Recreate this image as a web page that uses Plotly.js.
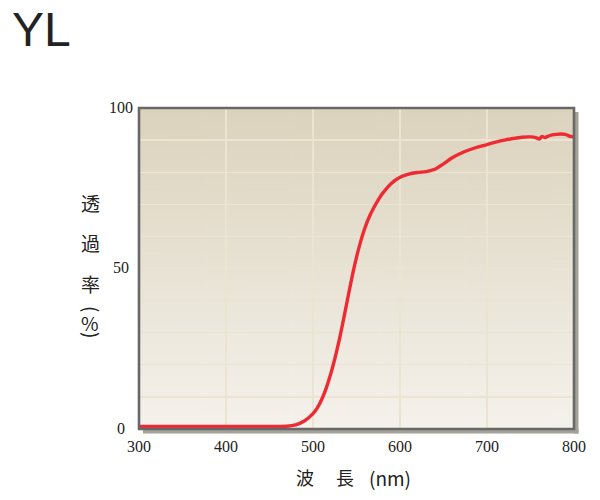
<!DOCTYPE html>
<html>
<head>
<meta charset="utf-8">
<script src="https://cdn.plot.ly/plotly-3.0.1.min.js"></script>
<style>html,body{margin:0;padding:0;background:#fff;}#chart{width:600px;height:500px;}</style>
</head>
<body>
<div id="chart"></div>
<script>
// Data
const wavelength = [300,350,400,450,460,470,480,490,500,505,510,515,520,525,530,535,540,545,550,555,560,565,570,575,580,590,600,610,620,630,640,650,660,670,680,690,700,710,720,730,740,750,756,760,763,767,770,775,780,785,790,795,800];
const transmittance = [0.8,0.8,0.8,0.8,0.8,0.85,1.3,2.5,4.8,6.6,9.2,12.6,16.8,21.8,27.5,34.0,40.8,47.5,53.5,58.6,62.9,66.3,69.0,71.4,73.4,76.5,78.4,79.4,79.9,80.2,80.9,82.6,84.5,85.9,87.0,87.9,88.6,89.4,90.0,90.5,90.9,91.0,90.8,90.3,91.1,90.8,91.2,91.6,91.8,91.9,91.8,91.2,91.0];
const xTickVals = [300,400,500,600,700,800];
const xTickText = ['300','400','500','600','700','800'];
const yTickVals = [0,50,100];
const yTickText = ['0','50','100'];
const yTitleChars = ['透','過','率','%'];
const yTitleParens = ['(', ')'];
const xTitleParts = ['波','長','(nm)'];
const titleText = 'YL';

// plot area geometry (pixels)
const L = 139, R = 26, T = 108, B = 71;
const PW = 600 - L - R, PH = 500 - T - B;
const px = v => v / PW, py = v => v / PH;
const PX = x => (x - L) / PW;          // page x -> paper
const PY = y => (500 - B - y) / PH;    // page y -> paper

// gradient background image
const cv = document.createElement('canvas');
cv.width = 10; cv.height = 200;
const ctx = cv.getContext('2d');
const g = ctx.createLinearGradient(0, 0, 0, 200);
g.addColorStop(0, '#dcd3bd');
g.addColorStop(1, '#f5f2ec');
ctx.fillStyle = g; ctx.fillRect(0, 0, 10, 200);
const bgURL = cv.toDataURL('image/png');

const serif = 'Liberation Serif, Times New Roman, serif';
const cjk = 'Noto Sans CJK JP, sans-serif';

const annotations = [];
xTickVals.forEach((v, i) => annotations.push({
  text: xTickText[i], x: v, xref: 'x', y: 0, yref: 'paper', yshift: -17,
  xanchor: 'center', yanchor: 'middle', showarrow: false,
  font: {family: serif, size: 16, color: '#222'}
}));
yTickVals.forEach((v, i) => annotations.push({
  text: yTickText[i], x: PX(121), xref: 'paper', y: v, yref: 'y', yshift: 1,
  xanchor: 'center', yanchor: 'middle', showarrow: false,
  font: {family: serif, size: 16, color: '#222'}
}));
const yTitleY = [202.5, 242.7, 283.3, 322];
yTitleChars.forEach((c, i) => annotations.push({
  text: c, x: PX(90), xref: 'paper', y: PY(yTitleY[i]), yref: 'paper',
  xanchor: 'center', yanchor: 'middle', showarrow: false,
  font: {family: cjk, size: 19, color: '#222'}
}));
// vertical-form parentheses: rotated "(" above and ")" below the "%"
const parenY = [308.5, 334.5];
yTitleParens.forEach((c, i) => annotations.push({
  text: c, x: PX(92.5), xref: 'paper', y: PY(parenY[i]), yref: 'paper', textangle: 90,
  xanchor: 'center', yanchor: 'middle', showarrow: false,
  font: {family: cjk, size: 19, color: '#222'}
}));
const xTitleX = [305, 344.7, 389.5];
xTitleParts.forEach((c, i) => annotations.push({
  text: c, x: PX(xTitleX[i]), xref: 'paper', y: PY(477), yref: 'paper',
  xanchor: 'center', yanchor: 'middle', showarrow: false,
  font: {family: cjk, size: i < 2 ? 18 : 19, color: '#222'}
}));

const trace = {
  x: wavelength, y: transmittance, type: 'scatter', mode: 'lines',
  line: {color: '#ee2a33', width: 3.4, shape: 'spline', smoothing: 0.8},
  hoverinfo: 'skip'
};

const layout = {
  width: 600, height: 500,
  margin: {l: L, r: R, t: T, b: B, pad: 0},
  paper_bgcolor: '#ffffff', plot_bgcolor: 'rgba(0,0,0,0)',
  showlegend: false,
  title: {text: titleText, x: 12 / 600, xref: 'container', xanchor: 'left',
          y: 1 - 29 / 500, yref: 'container', yanchor: 'middle',
          font: {family: 'Liberation Sans, Arial, sans-serif', size: 48, color: '#222'}},
  xaxis: {range: [300, 800], dtick: 100, tick0: 300, showgrid: true, gridcolor: '#ebe4d1', gridwidth: 1.6,
          zeroline: false, showline: false, showticklabels: false, ticks: '', fixedrange: true},
  yaxis: {range: [0, 100], dtick: 10, tick0: 0, showgrid: true, gridcolor: '#ebe4d1', gridwidth: 1.4,
          zeroline: false, showline: false, showticklabels: false, ticks: '', fixedrange: true},
  images: [{source: bgURL, xref: 'paper', yref: 'paper', x: 0, y: 1, sizex: 1, sizey: 1,
            sizing: 'stretch', xanchor: 'left', yanchor: 'top', layer: 'below'}],
  shapes: [
    {type: 'rect', xref: 'paper', yref: 'paper', x0: 1, x1: 1 + px(4.5), y0: -py(4.5), y1: 1 - py(4),
     fillcolor: '#a3a198', line: {width: 0}, layer: 'below'},
    {type: 'rect', xref: 'paper', yref: 'paper', x0: px(4), x1: 1 + px(4.5), y0: -py(4.5), y1: 0,
     fillcolor: '#a3a198', line: {width: 0}, layer: 'below'},
    {type: 'rect', xref: 'paper', yref: 'paper', x0: 0, x1: 1, y0: 0, y1: 1,
     fillcolor: 'rgba(0,0,0,0)', line: {color: '#686868', width: 2.6}, layer: 'above'}
  ],
  annotations: annotations
};

Plotly.newPlot('chart', [trace], layout, {staticPlot: true, displayModeBar: false});
</script>
</body>
</html>
